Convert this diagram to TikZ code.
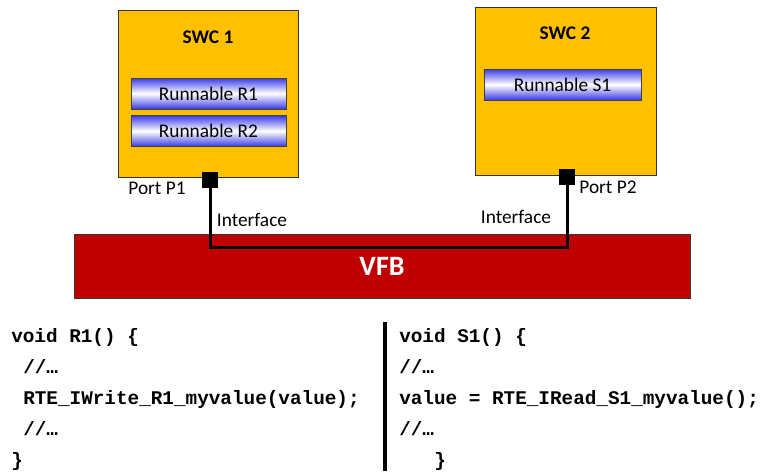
\documentclass[tikz,border=0pt]{standalone}
\usepackage{fontspec}
\setmainfont{Carlito}
\newfontfamily\codefont{Liberation Mono}
\usetikzlibrary{positioning}
\definecolor{swcyellow}{RGB}{255,192,0}
\definecolor{vfbred}{RGB}{192,0,0}
\definecolor{runblue}{RGB}{60,60,230}

\begin{document}
\begin{tikzpicture}[
    x=0.75pt, y=-0.75pt,
    swc/.style={draw=black!80, fill=swcyellow, minimum width=135pt, minimum height=125pt, inner sep=0pt},
    title/.style={font=\fontsize{14.5}{17}\selectfont\bfseries, inner sep=0pt},
    runnable/.style={draw=black!75, top color=runblue, bottom color=runblue, middle color=white,
      minimum width=116pt, minimum height=23pt, inner sep=0pt, font=\fontsize{14.5}{17}\selectfont},
    port/.style={fill=black, minimum size=12pt, inner sep=0pt},
    lbl/.style={font=\fontsize{14.5}{17}\selectfont, inner sep=0pt},
    vfb/.style={draw=black!80, fill=vfbred, text=white, minimum width=462pt, minimum height=48pt,
      font=\fontsize{21}{24}\selectfont\bfseries},
    wire/.style={line width=2.25pt},
    code/.style={font=\codefont\bfseries\fontsize{14.5}{17}\selectfont, anchor=base west, inner sep=0pt},
  ]
  \useasboundingbox (0,0) rectangle (763,471);

  % software components
  \node[swc] (swc1) at (208,93.5) {};
  \node[swc, minimum width=136pt, minimum height=126pt] (swc2) at (565.5,91) {};
  \node[title] (t1) at (208,37) {SWC 1};
  \node[title] (t2) at (565,33) {SWC 2};

  % runnables
  \node[runnable] (r1) at (208.5,93.5) {Runnable R1};
  \node[runnable] (r2) at (208.5,131) {Runnable R2};
  \node[runnable, minimum width=118pt] (s1) at (562.5,84.5) {Runnable S1};

  % bus
  \node[vfb] (vfb) at (382,266) {VFB};
  \coordinate (bus) at (390,247);

  % ports and interface
  \node[port] (p1) at (210,180) {};
  \node[port] (p2) at (567,176.5) {};
  \draw[wire] (p1) |- (bus) -| (p2);
  \node[lbl] (pl1) at (157,188) {Port P1};
  \node[lbl] (pl2) at (608,187) {Port P2};
  \node[lbl] (if1) at (252,220) {Interface};
  \node[lbl] (if2) at (516,217) {Interface};

  % code
  \node[code] (ca) at (11,342) {void R1() \{};
  \node[code] (cb) at (23,373) {//…};
  \node[code] (cc) at (23,404) {RTE\_IWrite\_R1\_myvalue(value);};
  \node[code] (cd) at (23,435) {//…};
  \node[code] (ce) at (11,466) {\}};

  \draw[line width=3pt] (385,322) -- (385,471);

  \node[code] (da) at (399,342) {void S1() \{};
  \node[code] (db) at (399,373) {//…};
  \node[code] (dc) at (399,404) {value = RTE\_IRead\_S1\_myvalue();};
  \node[code] (dd) at (399,435) {//…};
  \node[code] (de) at (434,466) {\}};
\end{tikzpicture}
\end{document}
